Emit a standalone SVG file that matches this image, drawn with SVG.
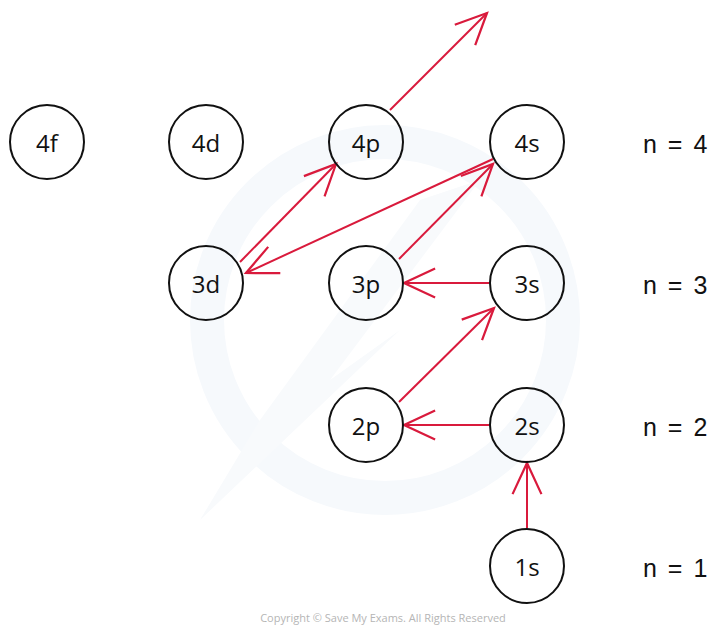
<svg xmlns="http://www.w3.org/2000/svg" width="712" height="627" viewBox="0 0 712 627">
<defs>
<style>
.node circle{fill:#ffffff;fill-opacity:0;stroke:#111111;stroke-width:2}
.node text{font-family:"Open Sans","Liberation Sans",sans-serif;font-size:24px;fill:#111111;text-anchor:middle}
.lvl{font-family:"Liberation Sans","DejaVu Sans",sans-serif;font-size:25px;fill:#111111;word-spacing:4px}
.conn line{stroke:#d91a3c;stroke-width:2;fill:none;marker-end:url(#chev)}
.wm{fill:none;stroke:#f6f9fc;stroke-width:34}
</style>
<marker id="chev" markerUnits="userSpaceOnUse" markerWidth="40" markerHeight="40" viewBox="-32 -16 36 32" refX="0" refY="0" orient="auto">
<path d="M -28 -13 L 0 0 L -28 13" fill="none" stroke="#d91a3c" stroke-width="2"/>
</marker>
</defs>
<rect width="712" height="627" fill="#ffffff"/>
<g id="watermark">
<circle class="wm" cx="385" cy="320" r="178"/>
<path d="M 200 520 L 400 330 L 330 380 L 480 180 L 420 200 L 260 420 Z" fill="#f8fafc"/>
</g>
<g id="connectors" class="conn">
<line x1="527" y1="528" x2="527" y2="463"/>
<line x1="489" y1="425" x2="404" y2="425"/>
<line x1="399" y1="402" x2="494" y2="308"/>
<line x1="489" y1="283" x2="404" y2="283"/>
<line x1="399" y1="259" x2="493" y2="164"/>
<line x1="493" y1="159" x2="246" y2="273"/>
<line x1="240" y1="262" x2="336" y2="164"/>
<line x1="390" y1="110" x2="487" y2="13"/>
</g>
<g id="n4f" class="node"><circle cx="47" cy="142" r="37"/><text x="47" y="152">4f</text></g>
<g id="n4d" class="node"><circle cx="206" cy="142" r="37"/><text x="206" y="152">4d</text></g>
<g id="n4p" class="node"><circle cx="366" cy="142" r="37"/><text x="366" y="152">4p</text></g>
<g id="n4s" class="node"><circle cx="527" cy="142" r="37"/><text x="527" y="152">4s</text></g>
<g id="n3d" class="node"><circle cx="206" cy="283" r="37"/><text x="206" y="293">3d</text></g>
<g id="n3p" class="node"><circle cx="366" cy="283" r="37"/><text x="366" y="293">3p</text></g>
<g id="n3s" class="node"><circle cx="527" cy="283" r="37"/><text x="527" y="293">3s</text></g>
<g id="n2p" class="node"><circle cx="366" cy="425" r="37"/><text x="366" y="435">2p</text></g>
<g id="n2s" class="node"><circle cx="527" cy="425" r="37"/><text x="527" y="435">2s</text></g>
<g id="n1s" class="node"><circle cx="527" cy="566" r="37"/><text x="527" y="576">1s</text></g>
<g id="levels">
<text class="lvl" x="643" y="153">n = 4</text>
<text class="lvl" x="643" y="294">n = 3</text>
<text class="lvl" x="643" y="436">n = 2</text>
<text class="lvl" x="643" y="577">n = 1</text>
</g>
<text x="383" y="622" font-family="'Open Sans','Liberation Sans',sans-serif" font-size="11" fill="#b5b5b5" text-anchor="middle">Copyright © Save My Exams. All Rights Reserved</text>
</svg>
